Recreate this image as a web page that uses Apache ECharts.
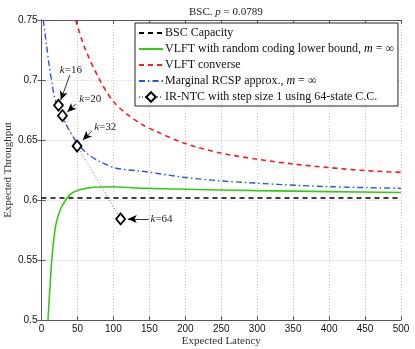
<!DOCTYPE html>
<html>
<head>
<meta charset="utf-8">
<script src="https://cdn.jsdelivr.net/npm/echarts@6/dist/echarts.min.js"></script>
<style>
  html, body { margin: 0; padding: 0; background: #fff; }
  #chart { width: 415px; height: 349px; }
</style>
</head>
<body>
<div id="chart"></div>
<script>
  // values: [expected latency, expected throughput]
  var capacity = 0.6017
  var capacityLine = [[0, capacity], [500, capacity]]
  var randomCoding = [[9, 0.5], [14.3, 0.55], [18, 0.572], [21.3, 0.583], [26, 0.5917], [33, 0.5994],
    [42, 0.6056], [56, 0.6089], [74.5, 0.6106], [98, 0.6111], [137, 0.6099], [200, 0.609],
    [300, 0.6078], [400, 0.607], [500, 0.6062]]
  var converse = [[47.5, 0.75], [60, 0.727], [81, 0.70], [100, 0.682], [120, 0.671], [141, 0.6625],
    [160, 0.657], [200, 0.647], [250, 0.639], [300, 0.634], [350, 0.630], [400, 0.627],
    [450, 0.6245], [500, 0.623]]
  var rcspApprox = [[2.5, 0.75], [7, 0.729], [10.6, 0.7125], [15, 0.696], [18, 0.686], [23, 0.677],
    [29, 0.669], [35, 0.662], [49, 0.648], [63, 0.639], [81, 0.632], [104, 0.6265], [140, 0.624],
    [197, 0.619], [248, 0.616], [301, 0.614], [355, 0.6122], [406, 0.611], [452, 0.6103], [500, 0.6097]]
  var irntc = [[23.6, 0.679], [29.2, 0.6703], [49.5, 0.645], [110, 0.5842]]
  var kLabels = ['16', '20', '32', '64']
  var kTextAt = [[40.8, 0.7083], [67.9, 0.6842], [88.7, 0.6608], [167, 0.5842]]
  var kArrowFrom = [[39.4, 0.7042], [47.7, 0.68], [70, 0.6575], [149.2, 0.5842]]
  var kArrowTo = [[26.8, 0.6833], [35.9, 0.6733], [57.4, 0.65], [120, 0.5842]]
  var xTicks = { min: 0, max: 500, interval: 50 }
  var yTicks = { min: 0.5, max: 0.75, interval: 0.05 }
  var legendNames = ['BSC Capacity', 'VLFT with random coding lower bound, m = ∞', 'VLFT converse',
    'Marginal RCSP approx., m = ∞', 'IR-NTC with step size 1 using 64-state C.C.']

  var serif = 'Liberation Serif'
  var sans = 'Liberation Sans'
  var italic = { fontFamily: serif, fontStyle: 'italic', fontSize: 12, color: '#000' }

  function axisBase(extra) {
    var a = {
      axisLine: { show: true, lineStyle: { color: '#555', width: 1 } },
      axisTick: { show: true, inside: true, length: 4, lineStyle: { color: '#555' } },
      splitLine: { show: false }
    }
    return Object.assign(a, extra)
  }

  var chart = echarts.init(document.getElementById('chart'))
  chart.setOption({
    backgroundColor: '#fff',
    animation: false,
    title: {
      text: 'BSC. {i|p} = 0.0789',
      left: 184,
      top: 2,
      textStyle: {
        fontFamily: serif, fontSize: 11, fontWeight: 'normal', color: '#222',
        rich: { i: { fontFamily: serif, fontStyle: 'italic', fontSize: 11, color: '#222' } }
      }
    },
    grid: { left: 41.5, right: 14, top: 20, bottom: 29, containLabel: false, outerBoundsMode: 'none' },
    legend: {
      orient: 'vertical',
      left: 135,
      top: 23,
      padding: [4, 4, 3, 3],
      itemGap: 4,
      itemWidth: 24,
      itemHeight: 12,
      backgroundColor: '#fff',
      borderColor: '#222',
      borderWidth: 1,
      borderRadius: 0,
      textStyle: {
        fontFamily: serif, fontSize: 12, color: '#111', padding: [0, 0, 0, -3],
        rich: { i: italic }
      },
      data: legendNames.map(function(n, i) {
        return i < 4 ? { name: n, itemStyle: { opacity: 0 } } : { name: n }
      }),
      formatter: function(name) {
        return name.replace('m =', '{i|m} =')
      }
    },
    xAxis: [axisBase({
      type: 'value', min: xTicks.min, max: xTicks.max, interval: xTicks.interval,
      name: 'Expected Latency', nameLocation: 'middle', nameGap: 16, nameMoveOverlap: false,
      nameTextStyle: { fontFamily: serif, fontSize: 11, color: '#333' },
      axisLabel: { fontFamily: sans, fontSize: 10, color: '#111', margin: 4 },
      splitLine: { show: true, lineStyle: { color: '#c8c8c8', type: [1, 2], width: 1 } }
    }), axisBase({
      type: 'value', position: 'top', min: xTicks.min, max: xTicks.max, interval: xTicks.interval,
      axisLabel: { show: false }
    })],
    yAxis: [axisBase({
      type: 'value', min: yTicks.min, max: yTicks.max, interval: yTicks.interval,
      name: 'Expected Throughput', nameLocation: 'middle', nameGap: 28, nameMoveOverlap: false,
      nameTextStyle: { fontFamily: serif, fontSize: 11, color: '#333' },
      axisLabel: { fontFamily: sans, fontSize: 10, color: '#111', margin: 4 },
      splitLine: { show: true, lineStyle: { color: '#c8c8c8', type: [1, 2], width: 1 } }
    }), axisBase({
      type: 'value', position: 'right', min: yTicks.min, max: yTicks.max, interval: yTicks.interval,
      axisLabel: { show: false }
    })],
    series: [{
      name: legendNames[0],
      type: 'line',
      data: capacityLine,
      symbol: 'none',
      lineStyle: { color: '#000', width: 1.6, type: [5, 4] },
      itemStyle: { color: '#000' },
      z: 3
    }, {
      name: legendNames[1],
      type: 'line',
      data: randomCoding,
      symbol: 'none',
      smooth: 0.3,
      lineStyle: { color: '#33cc11', width: 1.6 },
      itemStyle: { color: '#33cc11' },
      z: 4
    }, {
      name: legendNames[2],
      type: 'line',
      data: converse,
      symbol: 'none',
      smooth: 0.3,
      lineStyle: { color: '#ff1a1a', width: 1.6, type: [5, 4] },
      itemStyle: { color: '#ff1a1a' },
      z: 4
    }, {
      name: legendNames[3],
      type: 'line',
      data: rcspApprox,
      symbol: 'none',
      smooth: 0.3,
      lineStyle: { color: '#2255ee', width: 1.4, type: [6, 3, 1.5, 3] },
      itemStyle: { color: '#2255ee' },
      z: 5
    }, {
      name: legendNames[4],
      type: 'line',
      data: irntc,
      symbol: 'diamond',
      symbolSize: [9, 11],
      lineStyle: { color: '#777', width: 1, type: [1, 2] },
      itemStyle: { color: '#fff', borderColor: '#000', borderWidth: 1.8 },
      z: 6,
      markPoint: {
        symbol: 'circle',
        symbolSize: 0,
        silent: true,
        label: {
          show: true, position: 'inside', color: '#222',
          fontFamily: serif, fontSize: 11,
          formatter: function(p) { return '{i|k}=' + p.name },
          rich: { i: { fontFamily: serif, fontStyle: 'italic', fontSize: 11, color: '#222' } }
        },
        data: kLabels.map(function(k, i) { return { name: k, coord: kTextAt[i] } })
      },
      markLine: {
        silent: true,
        symbol: ['none', 'arrow'],
        symbolSize: [6, 9],
        label: { show: false },
        lineStyle: { color: '#000', width: 0.8, type: 'solid' },
        data: kLabels.map(function(k, i) {
          return [{ coord: kArrowFrom[i] }, { coord: kArrowTo[i] }]
        })
      }
    }]
  })
</script>
</body>
</html>
